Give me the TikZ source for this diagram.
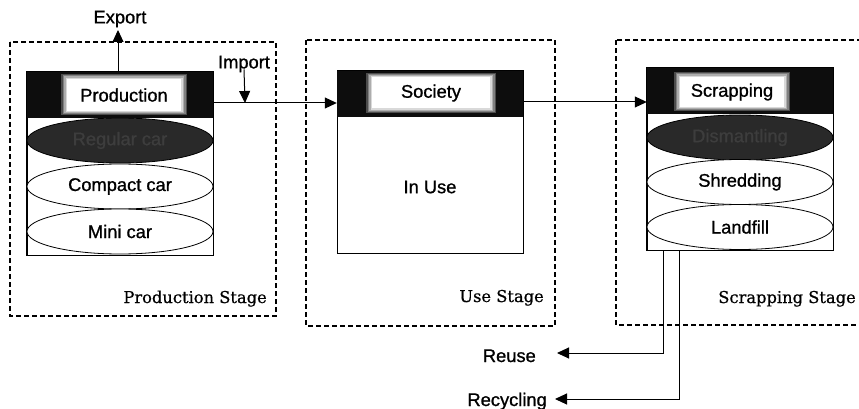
\documentclass[tikz,border=0pt]{standalone}
\usepackage{fontspec}
\setsansfont{Liberation Sans}[FakeBold=1]
\newfontfamily\stagefont{DejaVu Serif}[FakeBold=0.6]
\usetikzlibrary{shapes.geometric,arrows.meta}

% soft-edged white label on a black header band
\newcommand\fuzzylabel[5]{%
  \node[fill=black!70, minimum width=#3+12pt, minimum height=#4+9pt, inner sep=0] at (#2) {};
  \node[fill=black!50, minimum width=#3+9pt, minimum height=#4+7pt, inner sep=0] at (#2) {};
  \node[fill=black!32, minimum width=#3+6pt, minimum height=#4+5pt, inner sep=0] at (#2) {};
  \node[fill=black!15, minimum width=#3+3pt, minimum height=#4+2.5pt, inner sep=0] at (#2) {};
  \node[fill=white, minimum width=#3, minimum height=#4, inner sep=0] (#1) at (#2) {#5};
}

\begin{document}
\begin{tikzpicture}[x=1pt, y=-1pt,
  font=\sffamily\fontsize{18.3}{21}\selectfont,
  stagebox/.style={draw, line width=1.1pt, dash pattern=on 5pt off 3pt},
  stagelbl/.style={font=\stagefont\fontsize{16.3}{19}\selectfont, anchor=base east, inner sep=0},
  block/.style={draw, line width=1pt, fill=white, minimum width=186pt, inner sep=0},
  head/.style={fill=black!95, minimum width=186pt, minimum height=46pt, inner sep=0},
  layer/.style={ellipse, draw, line width=0.8pt, fill=white, minimum width=186pt, minimum height=45pt, inner sep=0},
  darklayer/.style={layer, fill=black!84, text=black!76},
  flow/.style={line width=1pt, -{Triangle[length=12pt, width=11pt]}},
  plain/.style={inner sep=0}
]
\useasboundingbox (0,0) rectangle (859,409);

% stage frames
\draw[stagebox] (10,42) rectangle (276,316);
\draw[stagebox] (306,40) rectangle (555,326);
\draw[stagebox] (616,40) rectangle (866,325);
\node[stagelbl] (pstage) at (267,303) {Production Stage};
\node[stagelbl] (ustage) at (544,302) {Use Stage};
\node[stagelbl] (sstage) at (856,303) {Scrapping Stage};

% production block
\node[block, minimum height=183pt] (prod) at (120,163.5) {};
\node[darklayer] (regular) at (120,140.5) {Regular car};
\node[layer] (compact) at (120,186.5) {Compact car};
\node[layer] (mini) at (120,231.5) {Mini car};
\node[head] (prodhead) at (120,95) {};
\fuzzylabel{prodlbl}{124,95}{114pt}{32pt}{Production}
\draw[line width=1pt] (prod.north west) rectangle (prod.south east);

% society block
\node[block, minimum height=182pt] (soc) at (430,162) {};
\node[plain] (inuse) at (430,187) {In Use};
\node[head] (sochead) at (430,94) {};
\fuzzylabel{soclbl}{431,93}{118pt}{31pt}{Society}

% scrapping block
\node[block, minimum height=182pt] (scrap) at (740,159) {};
\node[darklayer] (dismantle) at (740,137.5) {Dismantling};
\node[layer] (shred) at (740,182) {Shredding};
\node[layer] (landfill) at (740,227) {Landfill};
\node[head] (scraphead) at (740,91.5) {};
\fuzzylabel{scraplbl}{732,92}{104pt}{30pt}{Scrapping}
\draw[line width=1pt] (scrap.north west) rectangle (scrap.south east);

% trade flows
\node[plain] (export) at (120,19) {Export};
\coordinate (exptip) at (118,30);
\draw[flow] (prodhead.north -| exptip) -- (exptip);
\node[plain] (import) at (244,64) {Import};
\coordinate (imp) at (245,103);
\draw[flow] (import.south) ++(0,-3) -- (imp);

% main flow between stages
\draw[flow] (prodhead.east |- imp) -- (sochead.west |- imp);
\coordinate (mid2) at (585,102);
\draw[flow] (sochead.east |- mid2) -- (scraphead.west |- mid2);

% outputs of scrapping
\coordinate (r1) at (663,353);
\coordinate (r2) at (679,399);
\coordinate (reusetip) at (557,353);
\coordinate (recytip) at (555,399);
\node[plain, anchor=base east] (reuse) at (536,362) {Reuse};
\node[plain, anchor=base east] (recycle) at (547,406) {Recycling};
\draw[flow] (scrap.south -| r1) -- (r1) -- (reusetip);
\draw[flow] (scrap.south -| r2) -- (r2) -- (recytip);
\end{tikzpicture}
\end{document}
